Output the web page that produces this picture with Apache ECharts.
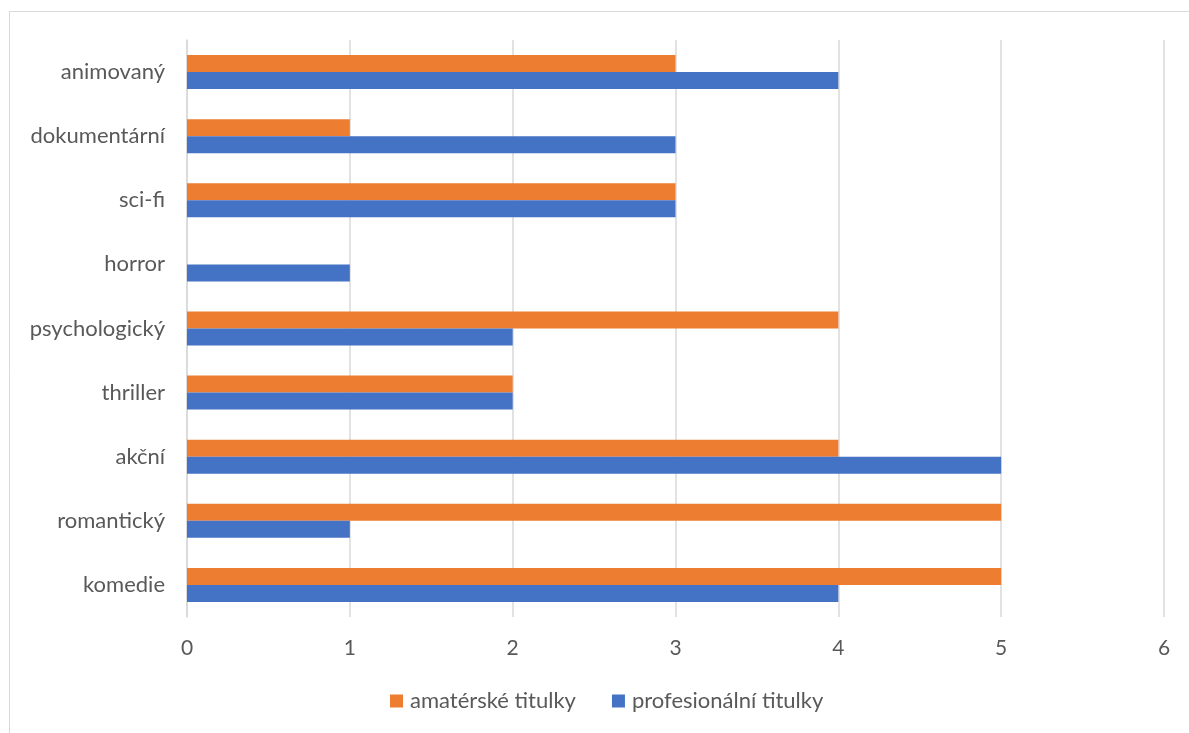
<!DOCTYPE html>
<html>
<head>
<meta charset="utf-8">
<script src="https://cdn.jsdelivr.net/npm/echarts@6/dist/echarts.min.js"></script>
<style>
  html, body { margin: 0; padding: 0; background: #ffffff; }
  #chart { width: 1189px; height: 733px; }
</style>
</head>
<body>
<div id="chart"></div>
<script>
// Genres, listed bottom to top as they appear on the axis
const categories = ['komedie', 'romantický', 'akční', 'thriller', 'psychologický', 'horror', 'sci-fi', 'dokumentární', 'animovaný'];
const amateurSubs = [5, 5, 4, 2, 4, 0, 3, 1, 3];
const professionalSubs = [4, 1, 5, 2, 2, 1, 3, 3, 4];
const xTicks = [0, 1, 2, 3, 4, 5, 6];

const FONT = 'Lato, "Open Sans", sans-serif';
const TEXT = '#595959';

const chart = echarts.init(document.getElementById('chart'), null, { renderer: 'canvas' });
chart.setOption({
  backgroundColor: '#ffffff',
  animation: false,
  graphic: [{
    type: 'rect',
    shape: { x: 9.5, y: 11.5, width: 1200, height: 800 },
    style: { fill: 'none', stroke: '#d9d9d9', lineWidth: 1 },
    silent: true
  }],
  grid: { left: 187, right: 25, top: 40, bottom: 116, containLabel: false },
  legend: {
    data: ['amatérské titulky', 'profesionální titulky'],
    bottom: 16,
    left: 385,
    itemWidth: 13,
    itemHeight: 13,
    itemGap: 36,
    icon: 'rect',
    textStyle: { color: TEXT, fontFamily: FONT, fontSize: 22, padding: [0, 0, 0, 2] }
  },
  xAxis: {
    type: 'value',
    min: xTicks[0],
    max: xTicks[xTicks.length - 1],
    interval: 1,
    axisLine: { show: false },
    axisTick: { show: false },
    splitLine: { lineStyle: { color: '#d9d9d9', width: 1.5 } },
    axisLabel: { color: TEXT, fontFamily: FONT, fontSize: 21, margin: 21 }
  },
  yAxis: {
    type: 'category',
    data: categories,
    axisLine: { lineStyle: { color: '#d9d9d9', width: 1.5 } },
    axisTick: { show: false },
    axisLabel: { color: TEXT, fontFamily: FONT, fontSize: 22, margin: 22 }
  },
  series: [
    {
      name: 'amatérské titulky',
      type: 'bar',
      data: amateurSubs,
      itemStyle: { color: '#ed7d31' },
      barGap: '0%',
      barCategoryGap: '47%'
    },
    {
      name: 'profesionální titulky',
      type: 'bar',
      data: professionalSubs,
      itemStyle: { color: '#4472c4' },
      barGap: '0%',
      barCategoryGap: '47%'
    }
  ]
});
</script>
</body>
</html>
